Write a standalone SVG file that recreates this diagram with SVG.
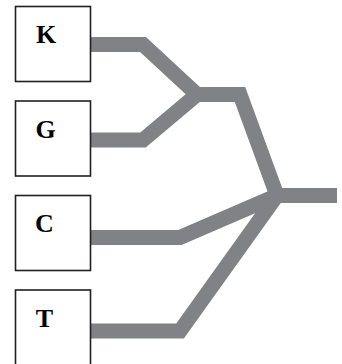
<svg xmlns="http://www.w3.org/2000/svg" width="342" height="364" viewBox="0 0 342 364">
<style>
.box{fill:#fff;stroke:#231f20;stroke-width:1.6}
.lbl{font-family:"Liberation Serif","Times New Roman",serif;font-weight:bold;font-size:26px;fill:#000;text-anchor:middle}
.wire{fill:none;stroke:#808285;stroke-width:15;stroke-linejoin:miter;stroke-miterlimit:10;stroke-linecap:butt}
</style>
<rect width="342" height="364" fill="#fff"/>
<g id="connectors">
<polyline class="wire" points="91,44.5 143,44.5 197,94.5 240,94.5 277,195.5 337,195.5"/>
<polyline class="wire" points="91,140 143,140 197,94.5 240,94.5"/>
<polyline class="wire" points="91,237.5 180,237.5 277,195.5 337,195.5"/>
<polyline class="wire" points="91,331 180,331 277,195.5 337,195.5"/>
</g>
<g id="node-K"><rect class="box" x="15.5" y="6.5" width="75" height="75"/><text class="lbl" x="46" y="43">K</text></g>
<g id="node-G"><rect class="box" x="15.5" y="101" width="75" height="75"/><text class="lbl" x="45.5" y="138">G</text></g>
<g id="node-C"><rect class="box" x="15.5" y="195.5" width="75" height="75"/><text class="lbl" x="44.5" y="232">C</text></g>
<g id="node-T"><rect class="box" x="15.5" y="290" width="75" height="75"/><text class="lbl" x="44.5" y="327">T</text></g>
</svg>
